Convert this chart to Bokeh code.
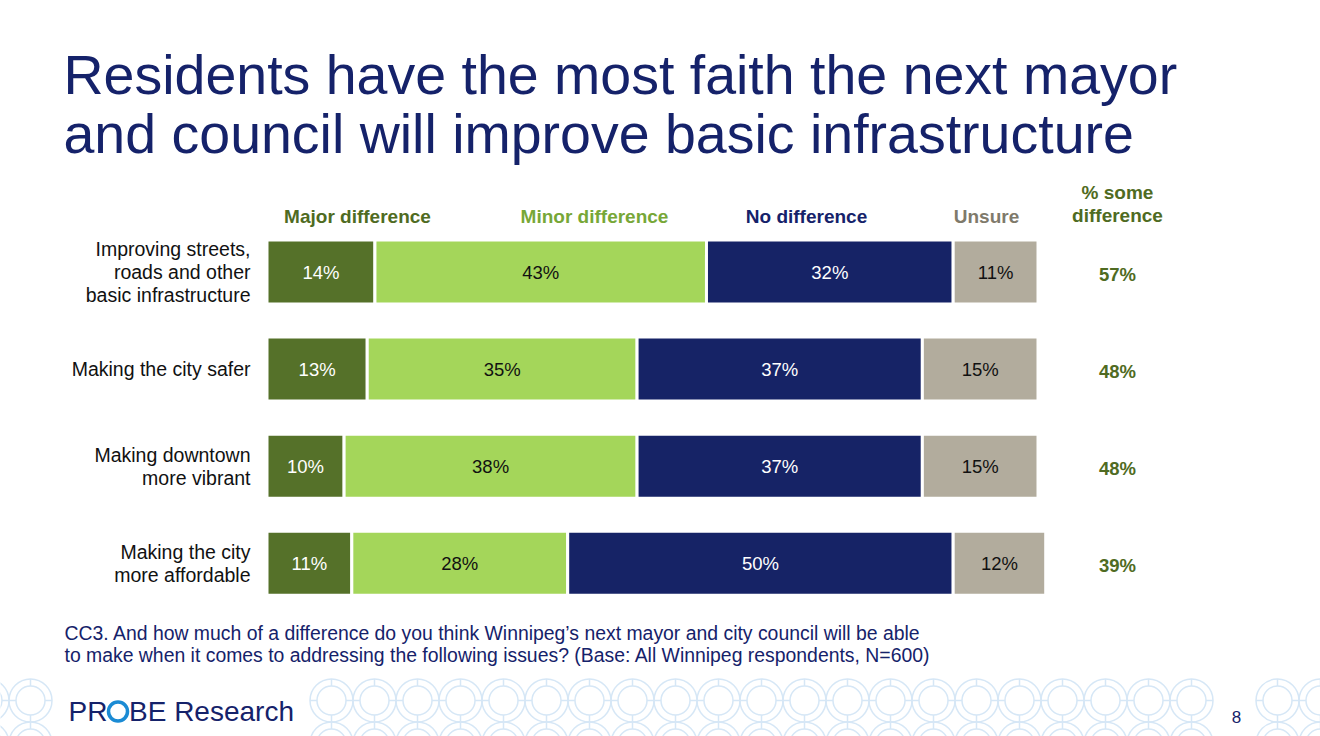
from bokeh.plotting import figure
from bokeh.models import Range1d, ColumnDataSource
from bokeh.core.properties import value
from bokeh.embed import file_html
from bokeh.resources import INLINE

# ---- survey data ----
issues = [
    "Improving streets,\nroads and other\nbasic infrastructure",
    "Making the city safer",
    "Making downtown\nmore vibrant",
    "Making the city\nmore affordable",
]
categories = ["Major difference", "Minor difference", "No difference", "Unsure"]
major = [14, 13, 10, 11]
minor = [43, 35, 38, 28]
no_diff = [32, 37, 37, 50]
unsure = [11, 15, 15, 12]
series = [major, minor, no_diff, unsure]

title_lines = [
    "Residents have the most faith the next mayor",
    "and council will improve basic infrastructure",
]
footnote_lines = [
    "CC3. And how much of a difference do you think Winnipeg\u2019s next mayor and city council will be able",
    "to make when it comes to addressing the following issues? (Base: All Winnipeg respondents, N=600)",
]

# ---- styling ----
FONT = "Liberation Sans"
NAVY = "#15226a"
seg_colors = ["#557129", "#a4d65a", "#162366", "#b2ac9d"]
seg_text_colors = ["white", "#111111", "white", "#111111"]
head_colors = ["#4f6b22", "#77a737", "#15226a", "#7f7a6b"]
SOME_GREEN = "#4f6b22"
PATTERN = "#d6e7f6"

W, H = 1320, 736
X0, SX = 266.5, 7.71      # pixel of 0 %, pixels per percent
Y0, SY = 271.5, 97.1      # pixel of first row centre, pixels per row


def dx(px):
    return (px - X0) / SX


def dy(py):
    return (py - Y0) / SY


p = figure(
    width=W, height=H,
    x_range=Range1d(dx(0), dx(W)),
    y_range=Range1d(dy(H), dy(0)),
    output_backend="svg", toolbar_location=None,
    min_border=0, outline_line_color=None,
    background_fill_color="white", border_fill_color="white",
)
p.axis.visible = False
p.grid.visible = False


def put_text(xs, ys, texts, size, color, align="left", bold=False, **kw):
    p.text(x=xs, y=ys, text=texts, text_font=value(FONT),
           text_font_size=size, text_font_style="bold" if bold else "normal",
           text_color=color, text_align=align, text_baseline="middle", **kw)


rows = list(range(len(issues)))

# ---- stacked bars ----
lefts = [0] * len(rows)
for k, vals in enumerate(series):
    rights = [l + v for l, v in zip(lefts, vals)]
    src = ColumnDataSource(dict(
        y=rows, left=lefts, right=rights,
        mid=[(l + r) / 2 for l, r in zip(lefts, rights)],
        label=[f"{v}%" for v in vals],
    ))
    p.hbar(y="y", left="left", right="right", height=64 / SY, source=src,
           fill_color=seg_colors[k], line_color="white", line_width=3)
    p.text(x="mid", y="y", text="label", source=src,
           text_font=value(FONT), text_font_size="18.5px",
           text_color=seg_text_colors[k], text_align="center",
           text_baseline="middle")
    lefts = rights

# ---- category headers ----
head_x = [357, 594, 806, 986]
put_text([dx(v) for v in head_x], [dy(216)] * 4, categories, "19px",
         head_colors, align="center", bold=True)

# ---- "% some difference" column ----
some = [a + b for a, b in zip(major, minor)]
put_text([dx(1117)] * 2, [dy(192), dy(215)], ["% some", "difference"], "19px",
         SOME_GREEN, align="center", bold=True)
put_text([dx(1117)] * len(rows), [r + 2 / SY for r in rows],
         [f"{v}%" for v in some], "18.5px", SOME_GREEN, align="center",
         bold=True)

# ---- row labels ----
put_text([dx(250)] * len(rows), rows, issues, "19.5px", "#111111",
         align="right", text_line_height=1.06)

# ---- title ----
put_text([dx(63)] * 2, [dy(74), dy(133)], title_lines, "55.5px", NAVY)

# ---- footnote ----
put_text([dx(64)] * 2, [dy(632), dy(654)], footnote_lines, "19.4px", NAVY)

# ---- decorative ring pattern along the bottom ----
ring_x = [331 + 43 * k for k in range(-8, 24) if not (-6 <= k <= -1 or k == 21)]
ring_y = [700, 743]
cx = [dx(x) for y in ring_y for x in ring_x]
cy = [dy(y) for y in ring_y for x in ring_x]
p.scatter(cx, cy, size=43, marker="circle", fill_color=None,
          line_color=PATTERN, line_width=1.5)
p.scatter(cx, cy, size=29, marker="circle", fill_color=None,
          line_color=PATTERN, line_width=1.5)
x0s, y0s, x1s, y1s = [], [], [], []
for y in ring_y:
    for x in ring_x:
        for ux, uy in [(0, -1), (0, 1), (-1, 0), (1, 0)]:
            x0s.append(dx(x + ux * 14.5)); y0s.append(dy(y + uy * 14.5))
            x1s.append(dx(x + ux * 21.5)); y1s.append(dy(y + uy * 21.5))
p.segment(x0s, y0s, x1s, y1s, line_color=PATTERN, line_width=1.5)

# ---- logo ----
put_text([dx(68)], [dy(711)], ["PR"], "28px", NAVY)
p.scatter([dx(117.5)], [dy(711)], size=19, marker="circle", fill_color=None,
          line_color="#1b8bd4", line_width=3.5)
put_text([dx(128.5)], [dy(711)], ["BE Research"], "28px", NAVY)

# ---- page number ----
put_text([dx(1236)], [dy(716)], ["8"], "17px", NAVY, align="center")

open("out.html", "w").write(file_html(p, INLINE))
